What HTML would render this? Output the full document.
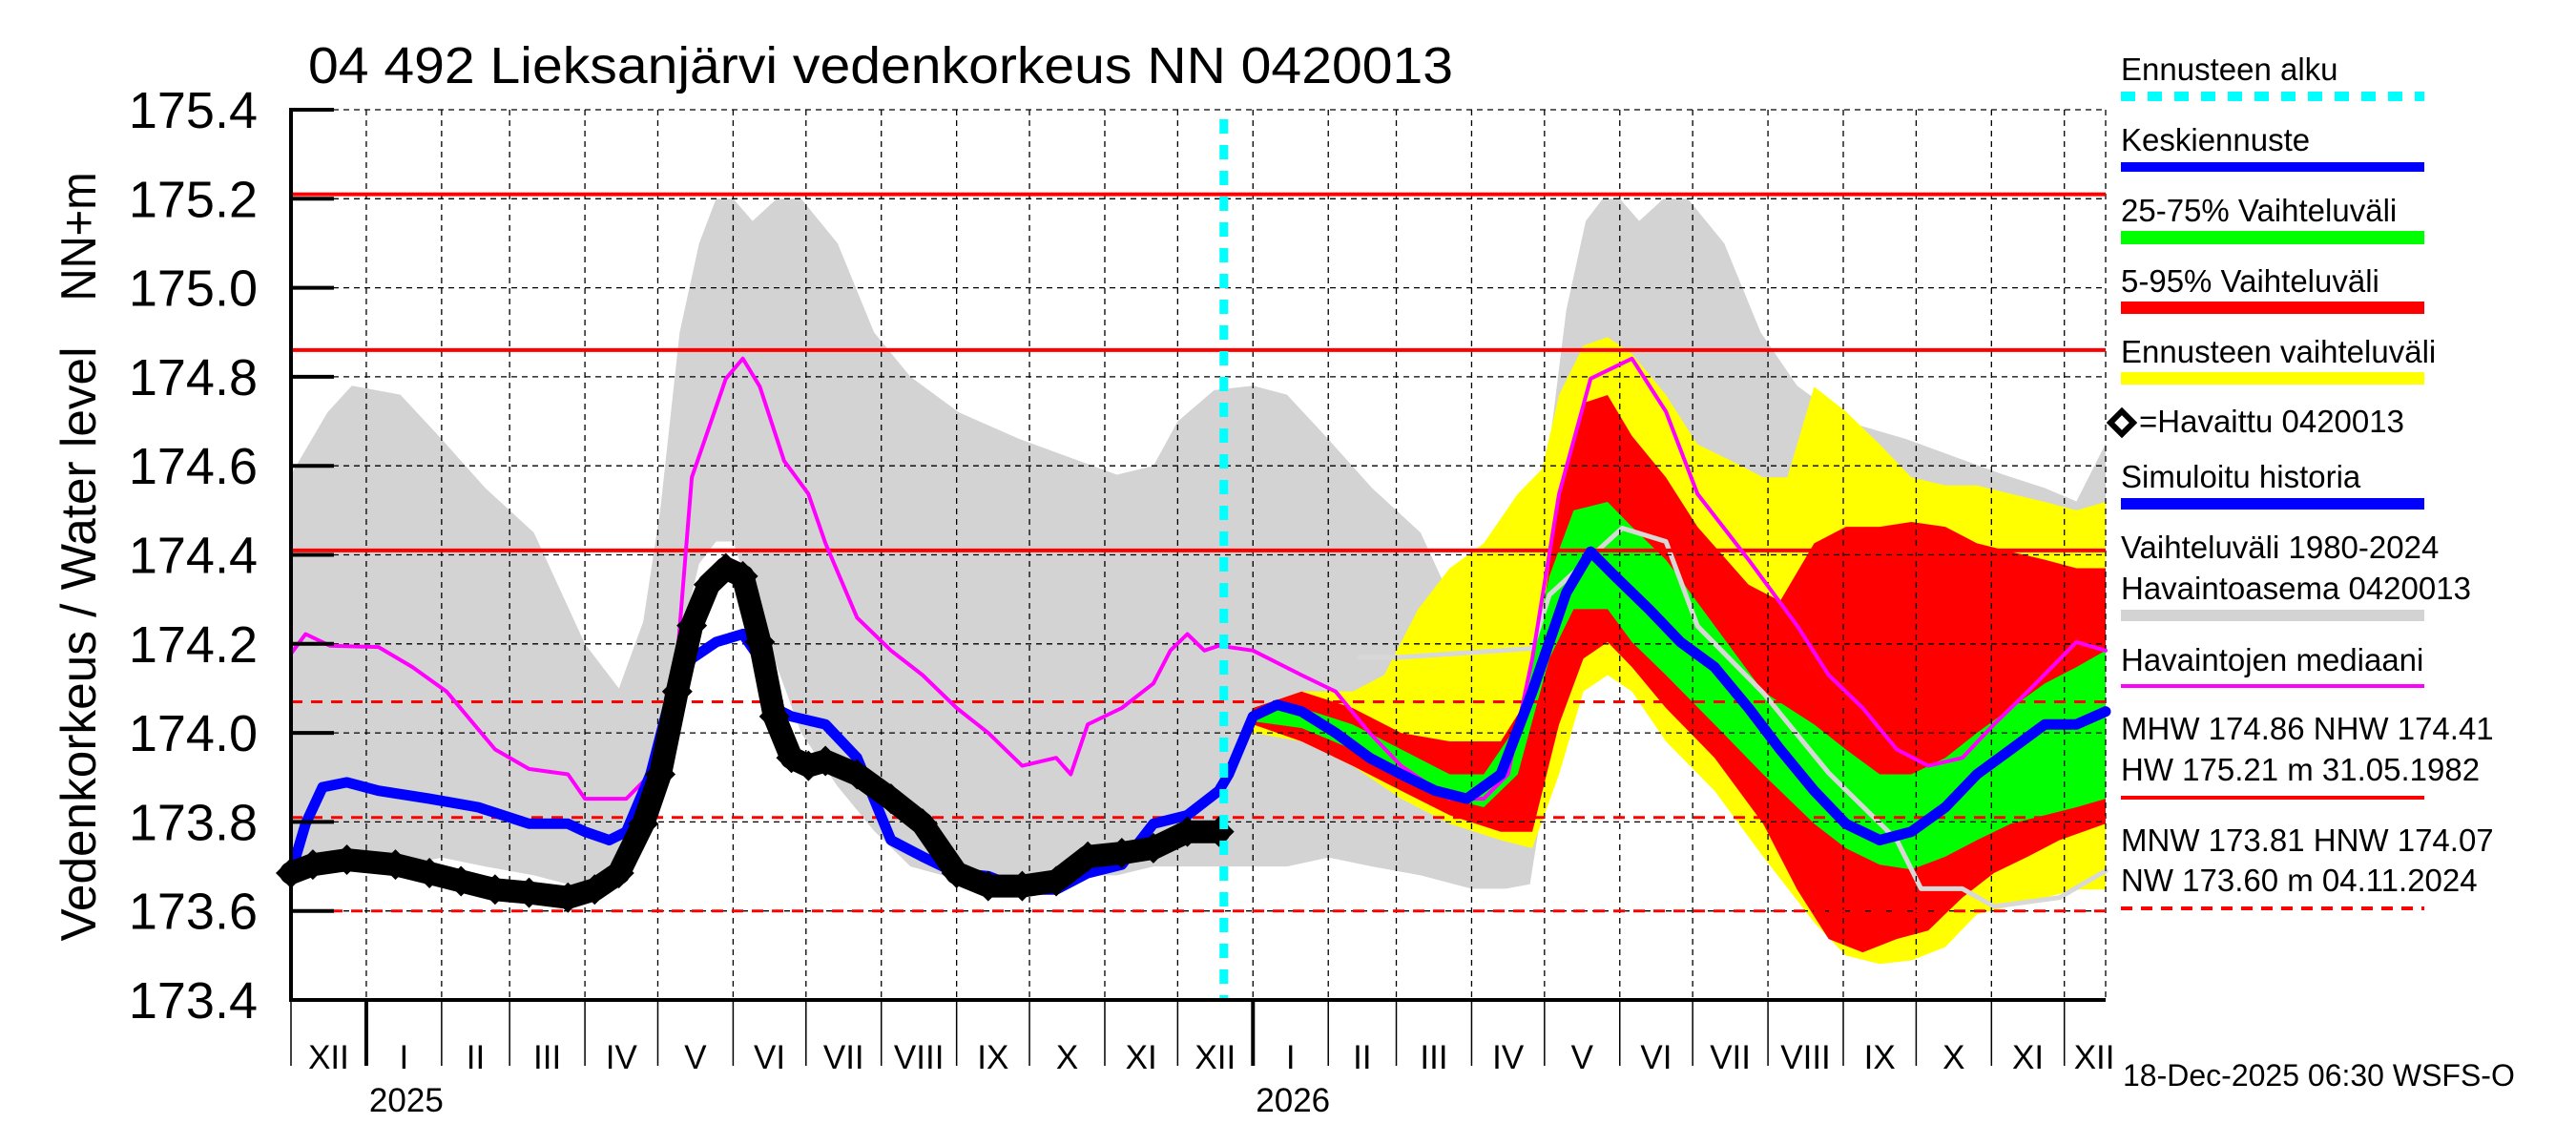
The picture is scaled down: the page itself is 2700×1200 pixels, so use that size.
<!DOCTYPE html>
<html><head><meta charset="utf-8"><style>
html,body{margin:0;padding:0;background:#fff}
svg{display:block}
text{font-family:"Liberation Sans",sans-serif;fill:#000}
</style></head><body>
<svg id="chart" width="2700" height="1200" viewBox="0 0 2700 1200" xmlns="http://www.w3.org/2000/svg">
<rect width="2700" height="1200" fill="#fff"/>
<g id="bands"></g><g id="grid"></g><g id="series"></g><g id="axes"></g>
<text x="323" y="87" font-size="54" textLength="1200" lengthAdjust="spacingAndGlyphs">04 492 Lieksanjärvi vedenkorkeus NN 0420013</text>
<text transform="translate(100,675) rotate(-90)" font-size="52" text-anchor="middle" textLength="623" lengthAdjust="spacingAndGlyphs">Vedenkorkeus / Water level</text>
<text transform="translate(100,248) rotate(-90)" font-size="52" text-anchor="middle" textLength="135" lengthAdjust="spacingAndGlyphs">NN+m</text>
<g font-size="33">
<text x="2223" y="84">Ennusteen alku</text>
<line x1="2223" y1="101" x2="2541" y2="101" stroke="#00ffff" stroke-width="10" stroke-dasharray="15,13"/>
<text x="2223" y="158">Keskiennuste</text>
<rect x="2223" y="170" width="318" height="10" fill="#0000ff"/>
<text x="2223" y="232">25-75% Vaihteluväli</text>
<rect x="2223" y="242" width="318" height="14" fill="#00ff00"/>
<text x="2223" y="306">5-95% Vaihteluväli</text>
<rect x="2223" y="316" width="318" height="13" fill="#ff0000"/>
<text x="2223" y="380">Ennusteen vaihteluväli</text>
<rect x="2223" y="390" width="318" height="13" fill="#ffff00"/>
<path d="M2224,431 L2236,443 L2224,455 L2212,443 Z" fill="#fff" stroke="#000" stroke-width="6"/>
<text x="2242" y="453">=Havaittu 0420013</text>
<text x="2223" y="511">Simuloitu historia</text>
<rect x="2223" y="522" width="318" height="12" fill="#0000ff"/>
<text x="2223" y="585">Vaihteluväli 1980-2024</text>
<text x="2223" y="628">Havaintoasema 0420013</text>
<rect x="2223" y="639" width="318" height="12" fill="#d3d3d3"/>
<text x="2223" y="703">Havaintojen mediaani</text>
<rect x="2223" y="717" width="318" height="4" fill="#ff00ff"/>
<text x="2223" y="775">MHW 174.86 NHW 174.41</text>
<text x="2223" y="818">HW 175.21 m 31.05.1982</text>
<rect x="2223" y="834" width="318" height="4" fill="#ff0000"/>
<text x="2223" y="892">MNW 173.81 HNW 174.07</text>
<text x="2223" y="934">NW 173.60 m 04.11.2024</text>
<line x1="2223" y1="952" x2="2541" y2="952" stroke="#ff0000" stroke-width="4" stroke-dasharray="12,9"/>
</g>
<text x="2225" y="1138" font-size="32">18-Dec-2025 06:30 WSFS-O</text>
</svg>
<script>
// x: days since 1 Dec 2024; y: water level (m NN)
const yTicks = [173.4,173.6,173.8,174.0,174.2,174.4,174.6,174.8,175.0,175.2,175.4];
const yTickLabels = ["173.4","173.6","173.8","174.0","174.2","174.4","174.6","174.8","175.0","175.2","175.4"];
const monthStarts = [0,31,62,90,121,151,182,212,243,274,304,335,365,396,427,455,486,516,547,577,608,639,669,700,730];
const monthLabels = ["XII","I","II","III","IV","V","VI","VII","VIII","IX","X","XI","XII","I","II","III","IV","V","VI","VII","VIII","IX","X","XI","XII"];
const yearStarts = [31,396];
const yearLabels = ["2025","2026"];
const solidRefLevels = [175.21,174.86,174.41];
const dashedRefLevels = [174.07,173.81,173.60];
const forecastStartDay = 384;

const rangeDays = [0,15,25,45,62,80,100,121,135,145,152,160,168,175,182,190,200,210,225,240,255,275,300,320,340,355,365,380,396,410,427,445,465,486,500,510,517,525,533,540,547,555,565,575,590,605,620,640,665,685,705,722,735,747];
const rangeLow = [173.70,173.70,173.70,173.70,173.72,173.70,173.68,173.65,173.65,173.75,173.98,174.20,174.38,174.43,174.43,174.30,174.15,174.00,173.88,173.78,173.70,173.67,173.66,173.68,173.68,173.70,173.70,173.70,173.70,173.70,173.72,173.70,173.68,173.65,173.65,173.66,173.90,174.15,174.35,174.43,174.43,174.30,174.15,174.00,173.88,173.78,173.70,173.67,173.66,173.68,173.68,173.68,173.70,173.70];
const rangeHigh = [174.58,174.72,174.78,174.76,174.66,174.55,174.45,174.20,174.10,174.25,174.50,174.90,175.10,175.20,175.20,175.15,175.20,175.20,175.10,174.90,174.80,174.72,174.66,174.62,174.58,174.60,174.70,174.77,174.78,174.76,174.66,174.55,174.45,174.20,174.10,174.30,174.60,174.95,175.15,175.20,175.20,175.15,175.20,175.20,175.10,174.90,174.78,174.70,174.66,174.62,174.58,174.55,174.52,174.65];

const prevYearDays = [440,457,511,518,548,566,579,606,633,661,671,688,701,728,747];
const prevYearVals = [174.17,174.17,174.19,174.31,174.46,174.43,174.24,174.09,173.91,173.76,173.65,173.65,173.61,173.63,173.69];

const yelUpDays = [384,396,416,437,450,464,477,491,505,515,522,532,542,552,566,579,593,606,616,627,640,654,667,681,694,708,722,735,747];
const yelUp = [173.907,174.056,174.093,174.093,174.130,174.278,174.370,174.426,174.537,174.593,174.759,174.870,174.889,174.852,174.759,174.648,174.611,174.574,174.574,174.778,174.722,174.648,174.574,174.556,174.556,174.537,174.519,174.5,174.519];
const yelLoDays = [384,396,416,437,457,477,498,511,522,532,542,552,566,586,606,627,640,654,667,681,694,708,722,735,747];
const yelLo = [173.889,174.0,173.981,173.926,173.852,173.796,173.759,173.741,173.907,174.093,174.130,174.093,173.981,173.870,173.722,173.574,173.5,173.481,173.489,173.519,173.593,173.611,173.630,173.648,173.648];
const redUpDays = [384,396,416,437,457,477,498,511,522,532,542,552,566,579,600,613,627,640,654,667,681,694,708,722,735,747];
const redUp = [173.907,174.056,174.093,174.056,174.0,173.981,173.981,174.093,174.537,174.741,174.759,174.667,174.574,174.463,174.333,174.296,174.426,174.463,174.463,174.474,174.463,174.426,174.407,174.389,174.370,174.370];
const redLoDays = [384,396,416,437,457,477,498,511,522,532,542,552,566,586,606,620,633,647,661,674,688,701,715,728,747];
const redLo = [173.889,174.019,173.981,173.926,173.870,173.815,173.778,173.778,174.019,174.167,174.204,174.148,174.056,173.944,173.796,173.648,173.537,173.507,173.537,173.556,173.630,173.685,173.722,173.759,173.796];
const grnDays = [384,396,416,437,457,477,491,505,518,528,542,552,566,586,606,627,640,654,667,681,694,708,722,735,747];
const grnUp = [173.907,174.048,174.056,174.019,173.963,173.907,173.907,174.019,174.352,174.5,174.519,174.463,174.389,174.241,174.093,174.019,173.963,173.907,173.907,173.944,174.0,174.056,174.111,174.148,174.185];
const grnLo = [173.889,174.026,174.011,173.963,173.907,173.852,173.833,173.907,174.167,174.278,174.278,174.204,174.130,174.019,173.907,173.796,173.741,173.704,173.693,173.722,173.759,173.796,173.815,173.833,173.852];

const medianDays = [0,6,16,36,50,64,84,98,114,121,138,148,159,165,179,186,193,203,213,220,233,247,260,274,287,301,315,321,328,342,355,362,369,376,382,396,416,430,444,457,477,491,501,511,522,535,552,566,579,600,620,633,647,661,674,688,701,715,735,747];
const medianVals = [174.178,174.222,174.196,174.193,174.148,174.093,173.963,173.919,173.907,173.852,173.852,173.907,174.167,174.574,174.796,174.841,174.778,174.611,174.537,174.426,174.259,174.185,174.130,174.056,174.0,173.926,173.944,173.907,174.019,174.056,174.111,174.185,174.222,174.185,174.196,174.185,174.130,174.093,174.0,173.926,173.852,173.852,173.907,174.167,174.537,174.796,174.841,174.722,174.537,174.389,174.241,174.130,174.056,173.963,173.926,173.944,174.019,174.093,174.204,174.185];

const simDays = [0,6,13,23,36,57,77,98,114,121,131,138,148,155,165,175,186,193,199,206,220,233,247,260,274,287,301,315,328,342,355,369,382,386,396,406,416,430,444,457,471,484,498,511,525,535,545,559,572,586,600,613,627,640,654,667,681,694,708,722,735,747];
const simVals = [173.685,173.796,173.878,173.889,173.870,173.852,173.833,173.796,173.796,173.778,173.759,173.778,173.907,174.056,174.167,174.204,174.222,174.167,174.056,174.037,174.019,173.944,173.759,173.722,173.685,173.678,173.648,173.648,173.685,173.704,173.796,173.815,173.870,173.907,174.037,174.063,174.048,174.0,173.944,173.907,173.870,173.852,173.907,174.093,174.315,174.407,174.352,174.278,174.204,174.148,174.056,173.963,173.870,173.796,173.759,173.778,173.833,173.907,173.963,174.019,174.019,174.048];

const obsDays = [0,9,23,43,57,70,84,98,114,125,135,145,152,159,165,172,179,186,193,199,206,213,220,233,247,260,274,287,301,315,328,342,355,369,382];
const obsVals = [173.685,173.704,173.715,173.704,173.685,173.667,173.648,173.641,173.630,173.648,173.685,173.796,173.907,174.093,174.241,174.333,174.370,174.352,174.204,174.037,173.944,173.926,173.937,173.907,173.852,173.796,173.685,173.656,173.656,173.667,173.722,173.730,173.741,173.778,173.778];

const X0=305, X1=2207, Y0=115, Y1=1048, DAYS=747, VMIN=173.4, VMAX=175.4;
const xs = d => X0 + d*(X1-X0)/DAYS;
const ys = v => Y1 - (v-VMIN)*(Y1-Y0)/(VMAX-VMIN);
const NS='http://www.w3.org/2000/svg';
function mk(tag, attrs, parent){const e=document.createElementNS(NS,tag);for(const k in attrs)e.setAttribute(k,attrs[k]);parent.appendChild(e);return e;}
const pts=(d,v)=>d.map((di,i)=>xs(Math.min(di,DAYS)).toFixed(1)+','+ys(v[i]).toFixed(1));
function band(d1,v1,d2,v2,color,name,parent){
  const p=pts(d1,v1).concat(pts(d2,v2).reverse());
  const e=mk('polygon',{points:p.join(' '),fill:color},parent);
  
  
}
function line(d,v,color,w,name,parent){
  const e=mk('polyline',{points:pts(d,v).join(' '),fill:'none',stroke:color,'stroke-width':w,'stroke-linejoin':'round','stroke-linecap':'round'},parent);
  
  
  return e;
}
const gB=document.getElementById('bands'), gG=document.getElementById('grid'), gS=document.getElementById('series'), gA=document.getElementById('axes');
band(rangeDays,rangeHigh,rangeDays,rangeLow,'#d3d3d3','historical-range-band',gB);
band(yelUpDays,yelUp,yelLoDays,yelLo,'#ffff00','forecast-range-band',gB);
band(redUpDays,redUp,redLoDays,redLo,'#ff0000','forecast-5-95-band',gB);
band(grnDays,grnUp,grnDays,grnLo,'#00ff00','forecast-25-75-band',gB);
line(prevYearDays,prevYearVals,'#d8d8d8',5,'previous-year-line',gB);

// grid
yTicks.forEach((v,i)=>{
  if(i>0&&i<yTicks.length-1){const g=mk('line',{x1:X0,x2:X1,y1:ys(v),y2:ys(v),stroke:'#000','stroke-width':1.3,'stroke-dasharray':'6,5'},gG);
  
  }
});
mk('line',{x1:X0,x2:X1,y1:Y0,y2:Y0,stroke:'#000','stroke-width':1.3,'stroke-dasharray':'6,5'},gG);
monthStarts.forEach(d=>{ if(d>0){const g=mk('line',{x1:xs(d),x2:xs(d),y1:Y0,y2:Y1,stroke:'#000','stroke-width':1.3,'stroke-dasharray':'6,5'},gG);
  
  }});
mk('line',{x1:X1,x2:X1,y1:Y0,y2:Y1,stroke:'#000','stroke-width':1.3,'stroke-dasharray':'6,5'},gG);

// reference levels
solidRefLevels.forEach(v=>{const e=mk('line',{x1:X0,x2:X1,y1:ys(v),y2:ys(v),stroke:'#ff0000','stroke-width':4},gS);
  
  });
dashedRefLevels.forEach(v=>{const e=mk('line',{x1:X0,x2:X1,y1:ys(v),y2:ys(v),stroke:'#ff0000','stroke-width':3,'stroke-dasharray':'12,9'},gS);
  
  });

line(medianVals.length?medianDays:[],medianVals,'#ff00ff',4,'observed-median-line',gS);
line(simDays,simVals,'#0000ff',11,'simulated-forecast-line',gS);
line(obsDays,obsVals,'#000',24,'observed-line',gS);
obsDays.forEach((d,i)=>{
  const cx=xs(d), cy=ys(obsVals[i]);
  const m=mk('path',{d:`M${cx},${cy-16} L${cx+16},${cy} L${cx},${cy+16} L${cx-16},${cy} Z`,fill:'#000'},gS);
  
  
});
const fc=mk('line',{x1:xs(forecastStartDay),x2:xs(forecastStartDay),y1:Y0+10,y2:Y1,stroke:'#00ffff','stroke-width':9,'stroke-dasharray':'15,12'},gS);



// axes
mk('line',{x1:X0,x2:X0,y1:Y0-2,y2:Y1+2,stroke:'#000','stroke-width':4},gA);
mk('line',{x1:X0-2,x2:X1,y1:Y1,y2:Y1,stroke:'#000','stroke-width':4},gA);
yTicks.forEach((v,i)=>{
  mk('line',{x1:X0,x2:X0+45,y1:ys(v),y2:ys(v),stroke:'#000','stroke-width':4},gA);
  const t=mk('text',{x:270,y:ys(v)+19,'font-size':54,'text-anchor':'end'},gA);
  t.textContent=yTickLabels[i];
  
  
});
monthStarts.forEach((d,i)=>{
  const isYear=yearStarts.includes(d);
  mk('line',{x1:xs(d),x2:xs(d),y1:Y1,y2:1117,stroke:'#000','stroke-width':isYear?4:1.5},gA);
  const next=i+1<monthStarts.length?monthStarts[i+1]:null;
  const t=mk('text',{'font-size':35,y:1120},gA);
  if(next!==null){t.setAttribute('x',(xs(d)+xs(next))/2);t.setAttribute('text-anchor','middle');}
  else{t.setAttribute('x',xs(d)+10);}
  t.textContent=monthLabels[i];
  
  
});
yearStarts.forEach((d,i)=>{
  const t=mk('text',{x:xs(d)+3,y:1165,'font-size':35},gA);
  t.textContent=yearLabels[i];
  
  
});
</script>
</body></html>
